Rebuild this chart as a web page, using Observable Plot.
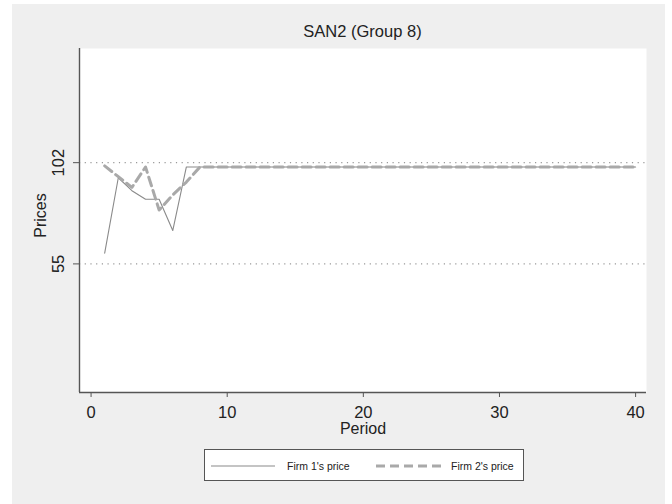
<!DOCTYPE html>
<html>
<head>
<meta charset="utf-8">
<script src="https://cdn.jsdelivr.net/npm/d3@7"></script>
<script src="https://cdn.jsdelivr.net/npm/@observablehq/plot@0.6"></script>
<style>
  html, body { margin: 0; padding: 0; background: #ffffff; width: 672px; height: 504px; overflow: hidden; }
  #panel { position: absolute; left: 12px; top: 4px; width: 653px; height: 500px; background: #efefef; font-family: "Liberation Sans", Arial, sans-serif; }
  #title { position: absolute; left: 0; top: 18px; width: 701px; text-align: center; font-size: 16.5px; color: #222; }
  #chart { position: absolute; left: 0; top: 0; }
  #legend { position: absolute; left: 192px; top: 445px; width: 318px; height: 30px; background: #fff; border: 1px solid #555; }
</style>
</head>
<body>
<div id="panel">
  <div id="chart"></div>
  <div id="title">SAN2 (Group 8)</div>
  <div id="legend"></div>
</div>
<script>
// ---- data ----
const periods = [1,2,3,4,5,6,7,8,9,10,11,12,13,14,15,16,17,18,19,20,21,22,23,24,25,26,27,28,29,30,31,32,33,34,35,36,37,38,39,40];
const firm1 = [60,95,89,85,85,70.5,100,100,100,100,100,100,100,100,100,100,100,100,100,100,100,100,100,100,100,100,100,100,100,100,100,100,100,100,100,100,100,100,100,100];
const firm2 = [100.5,95.5,90.5,100,80,87,93,100,100,100,100,100,100,100,100,100,100,100,100,100,100,100,100,100,100,100,100,100,100,100,100,100,100,100,100,100,100,100,100,100];
const xTicks = [0,10,20,30,40];
const yTicks = [55,102];
const xDomain = [-0.85, 40.8];
const yDomain = [-4.7, 155];
const seriesNames = ["Firm 1's price", "Firm 2's price"];
const xLabel = "Period";
const yLabel = "Prices";

const rows1 = periods.map((p, i) => ({period: p, price: firm1[i]}));
const rows2 = periods.map((p, i) => ({period: p, price: firm2[i]}));

const font = "Liberation Sans, Arial, sans-serif";
const axisColor = "#555";

const chart = Plot.plot({
  width: 653,
  height: 440,
  marginLeft: 67,
  marginRight: 19,
  marginTop: 44,
  marginBottom: 52,
  style: {background: "transparent", fontFamily: font, color: "#222"},
  x: {domain: xDomain},
  y: {domain: yDomain},
  marks: [
    Plot.frame({fill: "#ffffff", stroke: "none"}),
    Plot.ruleY(yTicks, {stroke: "#999", strokeDasharray: "1.2,4.5", strokeWidth: 1.2}),
    Plot.line(rows1, {x: "period", y: "price", stroke: "#8a8a8a", strokeWidth: 1.1}),
    Plot.line(rows2, {x: "period", y: "price", stroke: "#a9a9a9", strokeWidth: 3, strokeDasharray: "9,5"}),
    Plot.ruleX([xDomain[0]], {stroke: axisColor, strokeWidth: 1.4}),
    Plot.ruleY([yDomain[0]], {stroke: axisColor, strokeWidth: 1.4}),
    Plot.axisX({ticks: xTicks, tickSize: 5, tickPadding: 9, fontSize: 16.5, stroke: axisColor, label: null, tickFormat: d3.format("d")}),
    Plot.axisY({ticks: yTicks, tickSize: 6, tickFormat: () => "", stroke: axisColor, label: null}),
    Plot.text(yTicks, {x: xDomain[0], y: d => d, text: d => String(d), rotate: -90, textAnchor: "middle", dx: -21, fontSize: 16.5, fill: "#222"}),
    Plot.text([xLabel], {frameAnchor: "bottom", text: d => d, dy: 41, fontSize: 16, fill: "#222"}),
    Plot.text([yLabel], {frameAnchor: "left", text: d => d, rotate: -90, textAnchor: "middle", dx: -39, dy: -5, fontSize: 16, fill: "#222"})
  ]
});
document.getElementById("chart").appendChild(chart);

// ---- legend ----
const lw = 318, lh = 30;
const leg = d3.select("#legend").append("svg").attr("width", lw).attr("height", lh)
  .style("display", "block").style("font-family", font);
const items = [
  {x1: 6, x2: 70, tx: 82, stroke: "#8a8a8a", w: 1.1, dash: null},
  {x1: 171, x2: 238, tx: 246, stroke: "#a9a9a9", w: 3, dash: "9,5"}
];
items.forEach((it, i) => {
  leg.append("line").attr("x1", it.x1).attr("x2", it.x2).attr("y1", 16).attr("y2", 16)
    .attr("stroke", it.stroke).attr("stroke-width", it.w).attr("stroke-dasharray", it.dash);
  leg.append("text").attr("x", it.tx).attr("y", 16).attr("dy", "0.35em")
    .attr("font-size", 10.5).attr("fill", "#222").text(seriesNames[i]);
});
</script>
</body>
</html>
